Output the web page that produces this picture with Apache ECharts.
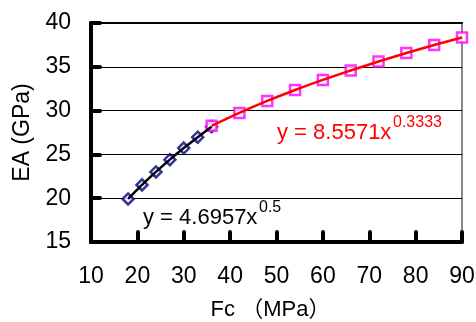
<!DOCTYPE html>
<html>
<head>
<meta charset="utf-8">
<script src="https://cdn.jsdelivr.net/npm/echarts@6/dist/echarts.min.js"></script>
<style>
  html, body { margin: 0; padding: 0; background: #fff; }
  #chart { width: 476px; height: 322px; }
</style>
</head>
<body>
<div id="chart"></div>
<script>
// Elastic modulus EA versus compressive strength Fc
const fcLow = [18, 21, 24, 27, 30, 33, 36];
const eaLow = [19.92, 21.52, 23.00, 24.40, 25.72, 26.97, 28.17];
const fcHigh = [36, 42, 48, 54, 60, 66, 72, 78, 84, 90];
const eaHigh = [28.26, 29.74, 31.10, 32.35, 33.50, 34.58, 35.60, 36.57, 37.48, 38.34];
const xTicks = [10, 20, 30, 40, 50, 60, 70, 80, 90];
const yTicks = [15, 20, 25, 30, 35, 40];
const fitLowText = ['y = 4.6957x', '0.5'];
const fitHighText = ['y = 8.5571x', '0.3333'];

const FONT = '"Liberation Sans", Arial, "Noto Sans CJK JP", sans-serif';

const pairs = (xs, ys) => xs.map((x, i) => [x, ys[i]]);

const chart = echarts.init(document.getElementById('chart'), null, { renderer: 'canvas' });

// equation label: base text plus a raised exponent
function equation(x, y, supX, parts, color) {
  return [
    {
      type: 'text', x: x, y: y, z: 10,
      style: { text: parts[0], fontFamily: FONT, fontSize: 22, fill: color, align: 'left', verticalAlign: 'middle' }
    },
    {
      type: 'text', x: supX, y: y - 10, z: 10,
      style: { text: parts[1], fontFamily: FONT, fontSize: 16, fill: color, align: 'left', verticalAlign: 'middle' }
    }
  ];
}

chart.setOption({
  animation: false,
  backgroundColor: '#ffffff',
  grid: {
    left: 91, right: 14, top: 23, bottom: 80,
    containLabel: false, outerBoundsMode: 'none',
    show: true, borderColor: '#888888', borderWidth: 2
  },
  xAxis: [{
    type: 'value',
    min: xTicks[0], max: xTicks[xTicks.length - 1], interval: 10,
    name: 'Fc （MPa）', nameLocation: 'middle', nameGap: 57,
    nameTextStyle: { fontFamily: FONT, fontSize: 22, color: '#000', padding: [0, 12, 0, 0] },
    axisLine: { show: true, lineStyle: { color: '#000', width: 4, cap: 'round' } },
    axisTick: { show: true, inside: true, length: 10, lineStyle: { color: '#000', width: 4, cap: 'round' } },
    axisLabel: { fontFamily: FONT, fontSize: 23, color: '#000', margin: 23 },
    splitLine: { show: false }
  }, {
    type: 'value', position: 'top',
    min: xTicks[0], max: xTicks[xTicks.length - 1], interval: 10,
    axisLine: { show: true, lineStyle: { color: '#000', width: 2 } },
    axisTick: { show: false }, axisLabel: { show: false }, splitLine: { show: false }
  }],
  yAxis: {
    type: 'value',
    min: yTicks[0], max: yTicks[yTicks.length - 1], interval: 5,
    name: 'EA (GPa)', nameLocation: 'middle', nameGap: 56,
    nameTextStyle: { fontFamily: FONT, fontSize: 23, color: '#000' },
    axisLine: { show: true, lineStyle: { color: '#000', width: 4, cap: 'round' } },
    axisTick: { show: true, inside: true, length: 9, lineStyle: { color: '#000', width: 4, cap: 'round' } },
    axisLabel: { fontFamily: FONT, fontSize: 23, color: '#000', margin: 20 },
    splitLine: { show: true, lineStyle: { color: '#000', width: 1 } }
  },
  series: [
    {
      type: 'scatter', data: pairs(fcLow, eaLow), z: 2,
      symbol: 'diamond', symbolSize: 11,
      itemStyle: { color: '#ffffff', borderColor: '#000080', borderWidth: 2.5 }
    },
    {
      type: 'scatter', data: pairs(fcHigh, eaHigh), z: 2,
      symbol: 'rect', symbolSize: 10,
      itemStyle: { color: '#ffffff', borderColor: '#ff00ff', borderWidth: 2.5 }
    },
    {
      type: 'line', data: pairs(fcLow, eaLow), z: 3,
      smooth: 0.3, showSymbol: false, symbol: 'none',
      lineStyle: { color: '#000000', width: 2.5 }
    },
    {
      type: 'line', data: pairs(fcHigh, eaHigh), z: 3,
      smooth: 0.3, showSymbol: false, symbol: 'none',
      lineStyle: { color: '#ff0000', width: 2.5 }
    }
  ],
  graphic: [].concat(
    equation(143, 218, 259, fitLowText, '#000000'),
    equation(277, 133, 393, fitHighText, '#ff0000')
  )
});
</script>
</body>
</html>
